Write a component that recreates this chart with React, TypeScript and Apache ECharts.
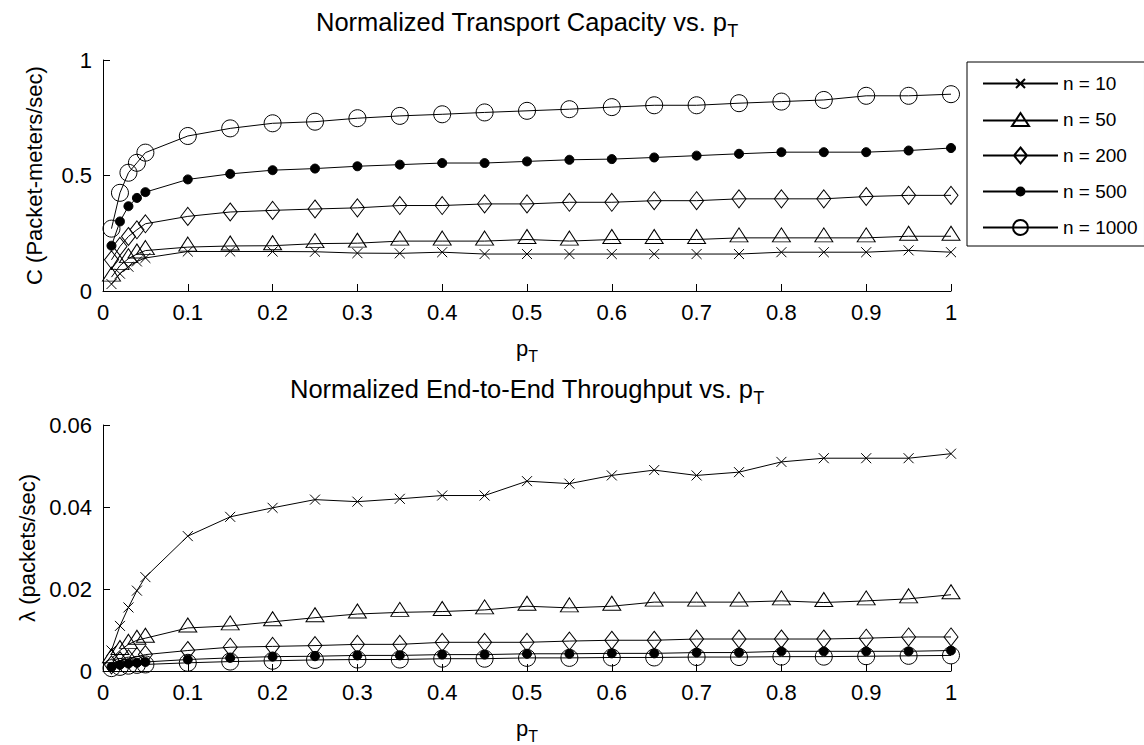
import React, { useEffect, useRef } from 'react';
import * as echarts from 'echarts';

const pT = [0.01, 0.02, 0.03, 0.04, 0.05, 0.1, 0.15, 0.2, 0.25, 0.3, 0.35, 0.4, 0.45, 0.5, 0.55, 0.6, 0.65, 0.7, 0.75, 0.8, 0.85, 0.9, 0.95, 1];
const seriesNames = ['n = 10', 'n = 50', 'n = 200', 'n = 500', 'n = 1000'];

// Normalized transport capacity C (top plot)
const capN10 = [0.03, 0.075, 0.105, 0.128, 0.143, 0.171, 0.171, 0.171, 0.17, 0.164, 0.163, 0.168, 0.16, 0.16, 0.16, 0.16, 0.16, 0.16, 0.16, 0.168, 0.168, 0.168, 0.176, 0.168];
const capN50 = [0.06, 0.11, 0.14, 0.16, 0.175, 0.19, 0.195, 0.196, 0.205, 0.207, 0.216, 0.216, 0.216, 0.223, 0.216, 0.223, 0.223, 0.223, 0.23, 0.23, 0.23, 0.23, 0.237, 0.237];
const capN200 = [0.135, 0.193, 0.236, 0.265, 0.291, 0.323, 0.342, 0.349, 0.355, 0.36, 0.37, 0.37, 0.377, 0.377, 0.384, 0.384, 0.391, 0.391, 0.399, 0.399, 0.399, 0.409, 0.414, 0.414];
const capN500 = [0.196, 0.301, 0.367, 0.403, 0.428, 0.483, 0.507, 0.523, 0.53, 0.54, 0.547, 0.554, 0.554, 0.561, 0.568, 0.571, 0.578, 0.586, 0.594, 0.601, 0.601, 0.601, 0.608, 0.619];
const capN1000 = [0.27, 0.425, 0.512, 0.555, 0.599, 0.671, 0.704, 0.726, 0.733, 0.748, 0.758, 0.765, 0.773, 0.78, 0.787, 0.796, 0.804, 0.804, 0.813, 0.82, 0.827, 0.845, 0.845, 0.852];

// Normalized end-to-end throughput lambda (bottom plot)
const thrN10 = [0.005, 0.011, 0.0155, 0.0196, 0.0229, 0.0329, 0.0376, 0.0398, 0.0418, 0.0413, 0.042, 0.0428, 0.0428, 0.0463, 0.0457, 0.0477, 0.049, 0.0477, 0.0485, 0.051, 0.0519, 0.0519, 0.0519, 0.053];
const thrN50 = [0.003, 0.005, 0.0065, 0.0075, 0.008, 0.0105, 0.011, 0.012, 0.013, 0.0139, 0.0143, 0.0145, 0.0149, 0.0158, 0.0154, 0.0158, 0.0168, 0.0168, 0.0168, 0.0171, 0.0167, 0.0171, 0.0176, 0.0186];
const thrN200 = [0.0015, 0.0025, 0.003, 0.0035, 0.004, 0.005, 0.0058, 0.006, 0.0062, 0.0065, 0.0065, 0.007, 0.007, 0.007, 0.0073, 0.0075, 0.0075, 0.0078, 0.0078, 0.0078, 0.0078, 0.008, 0.0083, 0.0083];
const thrN500 = [0.001, 0.0015, 0.0018, 0.002, 0.0022, 0.0028, 0.0032, 0.0035, 0.0036, 0.0038, 0.0038, 0.004, 0.004, 0.0042, 0.0042, 0.0043, 0.0043, 0.0045, 0.0045, 0.0048, 0.0048, 0.0048, 0.0048, 0.005];
const thrN1000 = [0.0007, 0.001, 0.0013, 0.0015, 0.0016, 0.002, 0.0023, 0.0025, 0.0027, 0.0028, 0.0028, 0.003, 0.003, 0.0032, 0.0032, 0.0033, 0.0033, 0.0034, 0.0034, 0.0035, 0.0035, 0.0036, 0.0037, 0.0038];

const capacity = [capN10, capN50, capN200, capN500, capN1000];
const throughput = [thrN10, thrN50, thrN200, thrN500, thrN1000];

const FONT = '"Liberation Sans", Arial, Helvetica, sans-serif';

const markers: any[] = [
  { symbol: 'path://M0,0L10,10M0,10L10,0', size: [10, 10], offset: [0, 0], filled: false },
  { symbol: 'triangle', size: [18, 14], offset: [0, -3], filled: false },
  { symbol: 'diamond', size: [14, 18], offset: [0, 0], filled: false },
  { symbol: 'circle', size: 9, offset: [0, 0], filled: true },
  { symbol: 'circle', size: 17, offset: [0, 0], filled: false },
];

// legend icons: a line with the marker drawn in its middle
const legendIcons = [
  'path://M0,9L75,9M33,4.5L42,13.5M33,13.5L42,4.5',
  'path://M0,9L75,9M37.5,1.5L46,14.5L29,14.5Z',
  'path://M0,9L75,9M37.5,1L44,9L37.5,17L31,9Z',
  'path://M0,9L75,9M33.5,9A4,4,0,1,0,41.5,9A4,4,0,1,0,33.5,9Z',
  'path://M0,9L75,9M30,9A7.5,7.5,0,1,0,45,9A7.5,7.5,0,1,0,30,9Z',
];

function makeSeries(values: number[][], axisIndex: number) {
  return values.map((vals, i) => ({
    type: 'line',
    name: seriesNames[i],
    xAxisIndex: axisIndex,
    yAxisIndex: axisIndex,
    data: pT.map((x, j) => [x, vals[j]]),
    symbol: markers[i].symbol,
    symbolSize: markers[i].size,
    symbolOffset: markers[i].offset,
    showSymbol: true,
    clip: false,
    lineStyle: { color: '#000', width: 1 },
    itemStyle: {
      color: markers[i].filled ? '#000' : 'rgba(0,0,0,0)',
      borderColor: '#000',
      borderWidth: 1,
    },
    emphasis: { disabled: true },
  }));
}

const subRich = {
  m: { fontSize: 22, fontFamily: FONT, color: '#000' },
  s: { fontSize: 16, fontFamily: FONT, color: '#000', padding: [16, 0, 0, 0] },
};

function xAxisDef(gridIndex: number) {
  return {
    type: 'value',
    gridIndex,
    min: 0,
    max: 1,
    interval: 0.1,
    name: '{m|p}{s|T}',
    nameLocation: 'middle',
    nameGap: 41,
    nameTextStyle: { rich: subRich },
    axisLine: { show: true, onZero: false, lineStyle: { color: '#000', width: 1 } },
    axisTick: { show: true, inside: true, length: 7, lineStyle: { color: '#000' } },
    axisLabel: {
      color: '#000',
      fontSize: 22,
      fontFamily: FONT,
      margin: 10,
      formatter: (v: number) => String(Math.round(v * 100) / 100),
    },
    splitLine: { show: false },
  };
}

function yAxisDef(gridIndex: number, max: number, interval: number, name: string) {
  return {
    type: 'value',
    gridIndex,
    min: 0,
    max,
    interval,
    name,
    nameLocation: 'middle',
    nameGap: 58,
    nameTextStyle: { color: '#000', fontSize: 22, fontFamily: FONT },
    axisLine: { show: true, onZero: false, lineStyle: { color: '#000', width: 1 } },
    axisTick: { show: true, inside: true, length: 7, lineStyle: { color: '#000' } },
    axisLabel: {
      color: '#000',
      fontSize: 22,
      fontFamily: FONT,
      margin: 11,
      formatter: (v: number) => String(Math.round(v * 1000) / 1000),
    },
    splitLine: { show: false },
  };
}

function titleText(x: number, y: number, main: string) {
  return {
    type: 'text',
    x,
    y,
    style: {
      text: `{m|${main}}{s|T}`,
      align: 'center',
      verticalAlign: 'middle',
      fill: '#000',
      rich: {
        m: { fontSize: 25.5, fontFamily: FONT, fill: '#000' },
        s: { fontSize: 18, fontFamily: FONT, fill: '#000', padding: [18, 0, 0, 0] },
      },
    },
  };
}

export default function App() {
  const ref = useRef<HTMLDivElement>(null);

  useEffect(() => {
    if (!ref.current) return;
    const chart = echarts.init(ref.current, undefined, { renderer: 'svg' });
    const option: any = {
      animation: false,
      backgroundColor: '#fff',
      grid: [
        { left: 103, top: 60, width: 848, height: 231, containLabel: false },
        { left: 103, top: 425, width: 848, height: 247, containLabel: false },
      ],
      xAxis: [xAxisDef(0), xAxisDef(1)],
      yAxis: [
        yAxisDef(0, 1, 0.5, 'C (Packet-meters/sec)'),
        yAxisDef(1, 0.06, 0.02, 'λ (packets/sec)'),
      ],
      legend: {
        data: seriesNames.map((name, i) => ({ name, icon: legendIcons[i] })),
        orient: 'vertical',
        left: 967,
        top: 62,
        padding: [12, 7, 9, 15],
        itemWidth: 75,
        itemHeight: 18,
        itemGap: 17,
        symbolKeepAspect: true,
        borderColor: '#000',
        borderWidth: 1,
        backgroundColor: '#fff',
        selectedMode: false,
        textStyle: { fontSize: 19, color: '#000', fontFamily: FONT },
      },
      graphic: [
        titleText(527, 22, 'Normalized Transport Capacity vs. p'),
        titleText(527, 389, 'Normalized End-to-End Throughput vs. p'),
      ],
      series: [...makeSeries(capacity, 0), ...makeSeries(throughput, 1)],
    };
    chart.setOption(option);
    return () => chart.dispose();
  }, []);

  return (
    <div
      ref={ref}
      style={{ position: 'fixed', left: 0, top: 0, width: 1144, height: 745, background: '#fff' }}
    />
  );
}
